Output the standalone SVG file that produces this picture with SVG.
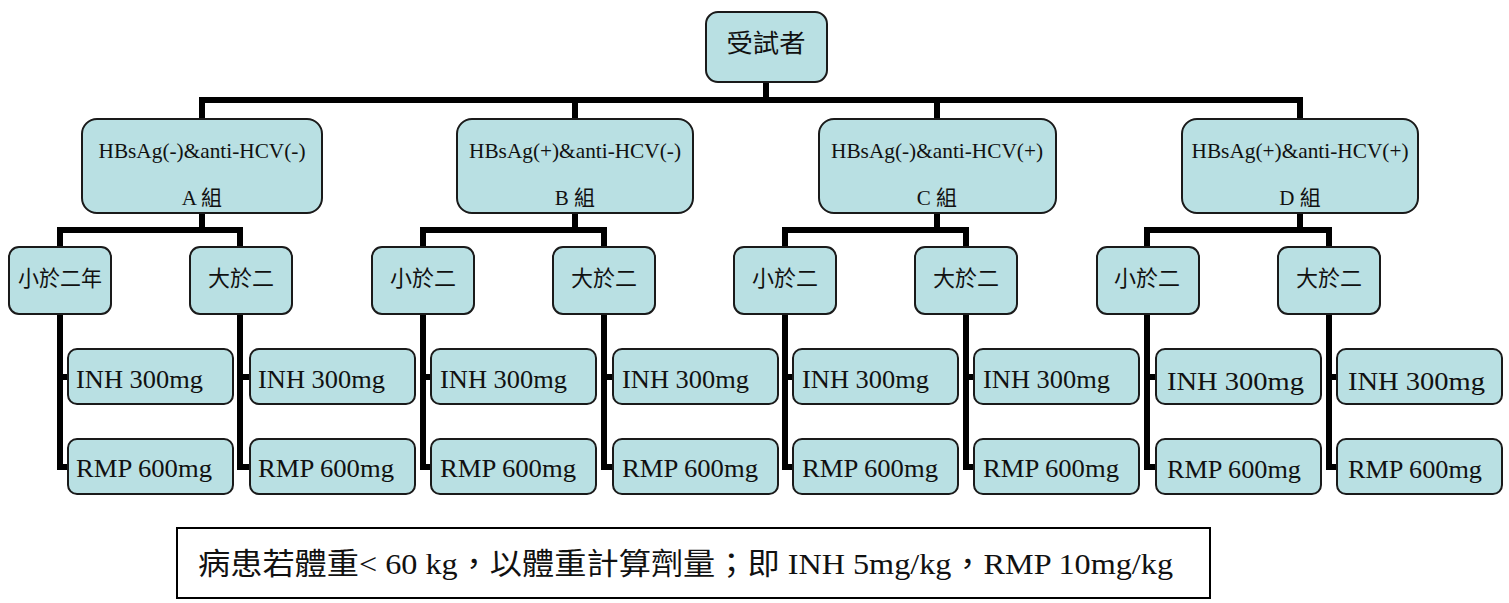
<svg xmlns="http://www.w3.org/2000/svg" width="1509" height="603" viewBox="0 0 1509 603">
<style>
.box{fill:#b9e0e3;stroke:#1a1a1a;stroke-width:2}
.con{fill:none;stroke:#000;stroke-width:6;stroke-linejoin:miter;stroke-linecap:butt}
.t{font-family:"Liberation Serif","Noto Sans CJK TC",serif;fill:#111}
.c{font-family:"Noto Sans CJK TC","Liberation Serif",sans-serif;fill:#111;text-anchor:middle}
.l1{font-size:21px;text-anchor:middle}
.l3{font-size:25px}
</style>
<rect width="1509" height="603" fill="#fff"/>
<g id="connectors">
<path class="con" d="M766 82V100H202V119M766 100H1300V119M575 100V119M937 100V119"/>
<path class="con" d="M202 213V230H60V247M202 230H240V247"/>
<path class="con" d="M575 213V230H423V247M575 230H604V247"/>
<path class="con" d="M937 213V230H785V247M937 230H966V247"/>
<path class="con" d="M1300 213V230H1147V247M1300 230H1329V247"/>
<path class="con" d="M60 314V467H68M60 377H68"/>
<path class="con" d="M240 314V467H250M240 377H250"/>
<path class="con" d="M423 314V467H431M423 377H431"/>
<path class="con" d="M604 314V467H613M604 377H613"/>
<path class="con" d="M785 314V467H793M785 377H793"/>
<path class="con" d="M966 314V467H974M966 377H974"/>
<path class="con" d="M1147 314V467H1156M1147 377H1156"/>
<path class="con" d="M1329 314V467H1337M1329 377H1337"/>
</g>
<g id="root"><rect class="box" x="706" y="12" width="121" height="70" rx="12"/><text class="c" x="766" y="52" font-size="25" textLength="79" lengthAdjust="spacingAndGlyphs">受試者</text></g>
<g id="groupA"><rect class="box" x="82" y="119" width="240" height="94" rx="15"/><text class="t l1" x="202" y="158" textLength="207" lengthAdjust="spacingAndGlyphs">HBsAg(-)&amp;anti-HCV(-)</text><text class="t l1" x="202" y="205">A 組</text></g>
<g id="groupB"><rect class="box" x="457" y="119" width="236" height="94" rx="15"/><text class="t l1" x="575" y="158" textLength="212" lengthAdjust="spacingAndGlyphs">HBsAg(+)&amp;anti-HCV(-)</text><text class="t l1" x="575" y="205">B 組</text></g>
<g id="groupC"><rect class="box" x="819" y="119" width="237" height="94" rx="15"/><text class="t l1" x="937" y="158" textLength="212" lengthAdjust="spacingAndGlyphs">HBsAg(-)&amp;anti-HCV(+)</text><text class="t l1" x="937" y="205">C 組</text></g>
<g id="groupD"><rect class="box" x="1182" y="119" width="236" height="94" rx="15"/><text class="t l1" x="1300" y="158" textLength="217" lengthAdjust="spacingAndGlyphs">HBsAg(+)&amp;anti-HCV(+)</text><text class="t l1" x="1300" y="205">D 組</text></g>
<g id="A-lt"><rect class="box" x="9" y="247" width="102" height="67" rx="10"/><text class="c" x="60" y="286" font-size="22" textLength="84" lengthAdjust="spacingAndGlyphs">小於二年</text></g>
<g id="A-gt"><rect class="box" x="190" y="247" width="102" height="67" rx="10"/><text class="c" x="241" y="286" font-size="22">大於二</text></g>
<g id="B-lt"><rect class="box" x="372" y="247" width="102" height="67" rx="10"/><text class="c" x="423" y="286" font-size="22">小於二</text></g>
<g id="B-gt"><rect class="box" x="553" y="247" width="102" height="67" rx="10"/><text class="c" x="604" y="286" font-size="22">大於二</text></g>
<g id="C-lt"><rect class="box" x="734" y="247" width="102" height="67" rx="10"/><text class="c" x="785" y="286" font-size="22">小於二</text></g>
<g id="C-gt"><rect class="box" x="915" y="247" width="102" height="67" rx="10"/><text class="c" x="966" y="286" font-size="22">大於二</text></g>
<g id="D-lt"><rect class="box" x="1097" y="247" width="102" height="67" rx="10"/><text class="c" x="1147" y="286" font-size="22">小於二</text></g>
<g id="D-gt"><rect class="box" x="1278" y="247" width="102" height="67" rx="10"/><text class="c" x="1329" y="286" font-size="22">大於二</text></g>
<g id="A1-inh"><rect class="box" x="68" y="349" width="165" height="55" rx="9"/><text class="t l3" x="76" y="388" textLength="127" lengthAdjust="spacingAndGlyphs">INH 300mg</text></g>
<g id="A1-rmp"><rect class="box" x="68" y="439" width="165" height="55" rx="9"/><text class="t l3" x="76" y="477" textLength="136" lengthAdjust="spacingAndGlyphs">RMP 600mg</text></g>
<g id="A2-inh"><rect class="box" x="250" y="349" width="165" height="55" rx="9"/><text class="t l3" x="258" y="388" textLength="127" lengthAdjust="spacingAndGlyphs">INH 300mg</text></g>
<g id="A2-rmp"><rect class="box" x="250" y="439" width="165" height="55" rx="9"/><text class="t l3" x="258" y="477" textLength="136" lengthAdjust="spacingAndGlyphs">RMP 600mg</text></g>
<g id="B1-inh"><rect class="box" x="431" y="349" width="165" height="55" rx="9"/><text class="t l3" x="440" y="388" textLength="127" lengthAdjust="spacingAndGlyphs">INH 300mg</text></g>
<g id="B1-rmp"><rect class="box" x="431" y="439" width="165" height="55" rx="9"/><text class="t l3" x="440" y="477" textLength="136" lengthAdjust="spacingAndGlyphs">RMP 600mg</text></g>
<g id="B2-inh"><rect class="box" x="613" y="349" width="165" height="55" rx="9"/><text class="t l3" x="622" y="388" textLength="127" lengthAdjust="spacingAndGlyphs">INH 300mg</text></g>
<g id="B2-rmp"><rect class="box" x="613" y="439" width="165" height="55" rx="9"/><text class="t l3" x="622" y="477" textLength="136" lengthAdjust="spacingAndGlyphs">RMP 600mg</text></g>
<g id="C1-inh"><rect class="box" x="793" y="349" width="165" height="55" rx="9"/><text class="t l3" x="802" y="388" textLength="127" lengthAdjust="spacingAndGlyphs">INH 300mg</text></g>
<g id="C1-rmp"><rect class="box" x="793" y="439" width="165" height="55" rx="9"/><text class="t l3" x="802" y="477" textLength="136" lengthAdjust="spacingAndGlyphs">RMP 600mg</text></g>
<g id="C2-inh"><rect class="box" x="974" y="349" width="165" height="55" rx="9"/><text class="t l3" x="983" y="388" textLength="127" lengthAdjust="spacingAndGlyphs">INH 300mg</text></g>
<g id="C2-rmp"><rect class="box" x="974" y="439" width="165" height="55" rx="9"/><text class="t l3" x="983" y="477" textLength="136" lengthAdjust="spacingAndGlyphs">RMP 600mg</text></g>
<g id="D1-inh"><rect class="box" x="1156" y="349" width="165" height="55" rx="9"/><text class="t l3" x="1167" y="390" font-size="27" textLength="137" lengthAdjust="spacingAndGlyphs">INH 300mg</text></g>
<g id="D1-rmp"><rect class="box" x="1156" y="439" width="165" height="55" rx="9"/><text class="t l3" x="1167" y="478" textLength="134" lengthAdjust="spacingAndGlyphs">RMP 600mg</text></g>
<g id="D2-inh"><rect class="box" x="1337" y="349" width="165" height="55" rx="9"/><text class="t l3" x="1348" y="390" font-size="27" textLength="137" lengthAdjust="spacingAndGlyphs">INH 300mg</text></g>
<g id="D2-rmp"><rect class="box" x="1337" y="439" width="165" height="55" rx="9"/><text class="t l3" x="1348" y="478" textLength="134" lengthAdjust="spacingAndGlyphs">RMP 600mg</text></g>
<g id="note"><rect x="177" y="528" width="1033" height="70" fill="#fff" stroke="#000" stroke-width="2"/><text class="t" x="198" y="574" font-size="30" textLength="975" lengthAdjust="spacingAndGlyphs">病患若體重&lt; 60 kg，以體重計算劑量；即  INH 5mg/kg，RMP 10mg/kg</text></g>
</svg>
